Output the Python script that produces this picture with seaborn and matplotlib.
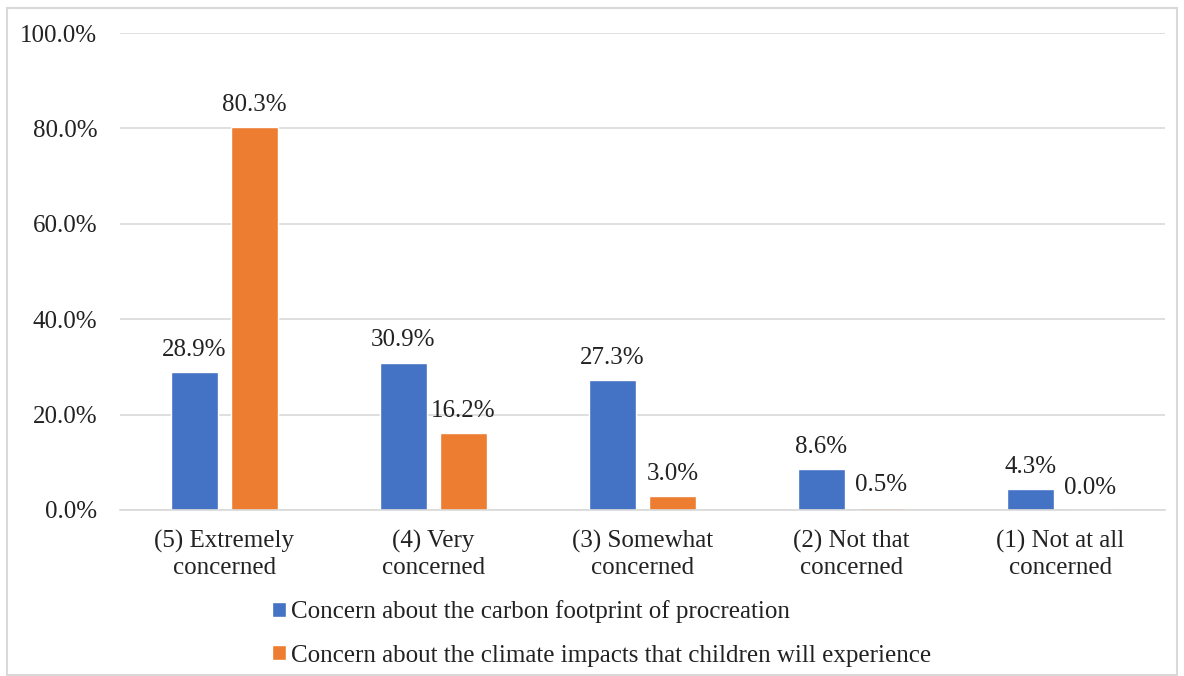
import matplotlib

matplotlib.use("Agg")

import matplotlib.pyplot as plt
import pandas as pd
import seaborn as sns
from matplotlib.patches import Rectangle
from matplotlib.ticker import FuncFormatter

CATEGORIES = [
    "(5) Extremely\nconcerned",
    "(4) Very\nconcerned",
    "(3) Somewhat\nconcerned",
    "(2) Not that\nconcerned",
    "(1) Not at all\nconcerned",
]
SERIES = [
    "Concern about the carbon footprint of procreation",
    "Concern about the climate impacts that children will experience",
]
CARBON_FOOTPRINT = [28.9, 30.9, 27.3, 8.6, 4.3]
CLIMATE_IMPACTS = [80.3, 16.2, 3.0, 0.5, 0.0]
COLORS = ["#4472C4", "#ED7D31"]
Y_TICKS = [0, 20, 40, 60, 80, 100]

FONT_SIZE = 18

df = pd.DataFrame(
    {
        "category": CATEGORIES * 2,
        "series": [SERIES[0]] * len(CATEGORIES) + [SERIES[1]] * len(CATEGORIES),
        "value": CARBON_FOOTPRINT + CLIMATE_IMPACTS,
    }
)

sns.set_theme(style="white")
plt.rcParams["font.family"] = ["Liberation Serif", "DejaVu Serif"]
plt.rcParams["text.color"] = "#222222"

fig = plt.figure(figsize=(11.84, 6.76), dpi=100)
ax = fig.add_axes([0.101, 0.2456, 0.883, 0.7055])

sns.barplot(
    data=df,
    x="category",
    y="value",
    hue="series",
    order=CATEGORIES,
    hue_order=SERIES,
    palette=COLORS,
    width=0.574,
    gap=0.217,
    saturation=1,
    legend=True,
    ax=ax,
)

for container in ax.containers:
    ax.bar_label(container, fmt="%.1f%%", padding=8, fontsize=FONT_SIZE, color="#222222")

ax.set_ylim(0, 100)
ax.set_yticks(Y_TICKS)
ax.yaxis.set_major_formatter(FuncFormatter(lambda v, _: f"{v:.1f}%"))
ax.set_xlim(-0.5, len(CATEGORIES) - 0.5)
ax.grid(axis="y", color="#d9d9d9", linewidth=1.2)
ax.set_axisbelow(True)
ax.set_xlabel("")
ax.set_ylabel("")
for side in ["top", "right", "left"]:
    ax.spines[side].set_visible(False)
ax.spines["bottom"].set_color("#d9d9d9")
ax.spines["bottom"].set_linewidth(1.2)
ax.tick_params(axis="y", length=0, pad=16, labelsize=FONT_SIZE, labelcolor="#222222")
ax.tick_params(axis="x", length=0, pad=14, labelsize=FONT_SIZE, labelcolor="#222222")
for label in ax.get_xticklabels():
    label.set_linespacing(1.25)

handles, labels = ax.get_legend_handles_labels()
ax.get_legend().remove()
fig.legend(
    handles,
    labels,
    loc="center left",
    bbox_to_anchor=(0.2297, 0.063),
    frameon=False,
    fontsize=FONT_SIZE,
    handlelength=0.55,
    handleheight=0.55,
    handletextpad=0.2,
    labelspacing=0.85,
    borderpad=0,
    borderaxespad=0,
)

fig.patches.append(
    Rectangle(
        (0.006, 0.002),
        0.988,
        0.986,
        transform=fig.transFigure,
        fill=False,
        edgecolor="#d9d9d9",
        linewidth=1.5,
    )
)

fig.savefig("out.png", dpi=100)
